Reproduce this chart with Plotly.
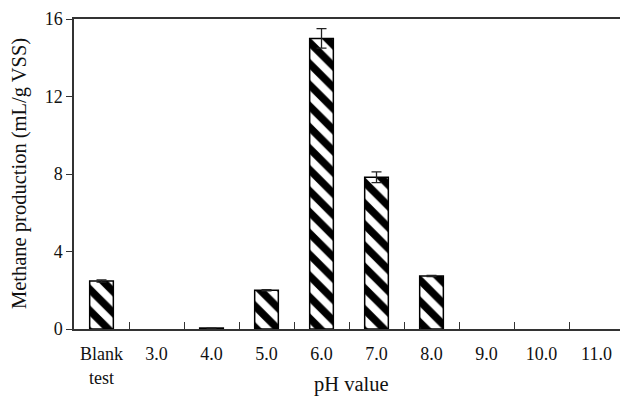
import plotly.graph_objects as go

categories = ["Blank<br>test", "3.0", "4.0", "5.0", "6.0", "7.0", "8.0", "9.0", "10.0", "11.0"]
methane = [2.48, None, 0.05, 2.0, 15.0, 7.83, 2.73, None, None, None]
errors = [0.06, None, 0, 0.03, 0.5, 0.28, 0.03, None, None, None]

font_family = "Liberation Serif, Times New Roman, serif"

fig = go.Figure()
fig.add_trace(go.Bar(
    x=categories, y=methane, width=0.43,
    marker=dict(color="white",
                line=dict(color="black", width=1.5),
                pattern=dict(shape="\\", size=15, solidity=0.5, fgcolor="black",
                             bgcolor="white", fgopacity=1, fillmode="replace")),
    error_y=dict(type="data", array=errors, visible=True, color="#222", thickness=1.3, width=5),
))

fig.update_layout(
    width=620, height=401,
    margin=dict(l=74, r=0, t=19, b=72),
    plot_bgcolor="white", paper_bgcolor="white",
    showlegend=False,
    font=dict(family=font_family, color="#111", size=18),
    xaxis=dict(
        type="category", range=[-0.5, 9.427], automargin=False,
        showline=True, linecolor="#333", linewidth=1.5, mirror=True,
        ticks="inside", tickson="boundaries", ticklen=7, tickcolor="#333", tickwidth=1.2,
        tickfont=dict(size=18), showgrid=False, ticklabelstandoff=8,
    ),
    yaxis=dict(
        range=[0, 16], tickvals=[0, 4, 8, 12, 16], automargin=False,
        showline=True, linecolor="#333", linewidth=1.5,
        ticks="outside", ticklen=6, tickcolor="#333", tickwidth=1.2,
        tickfont=dict(size=18), showgrid=False, zeroline=False,
    ),
    annotations=[
        dict(text="pH value", xref="paper", yref="paper", x=0.509, y=-0.18,
             showarrow=False, font=dict(size=20.5), xanchor="center", yanchor="middle"),
        dict(text="Methane production (mL/g VSS)", xref="paper", yref="paper",
             x=-0.1007, y=0.5, textangle=-90, showarrow=False, font=dict(size=20.5),
             xanchor="center", yanchor="middle"),
    ],
)

fig.write_html("out.html", post_script="document.body.style.margin='0';",
               config={"displayModeBar": False})
